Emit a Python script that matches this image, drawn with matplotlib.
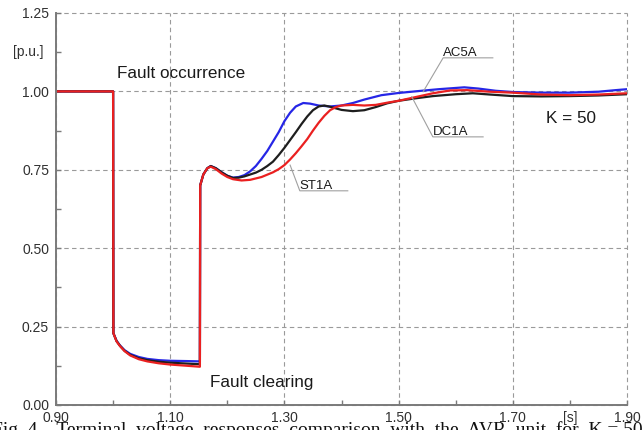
import matplotlib
matplotlib.use("Agg")
import matplotlib.pyplot as plt
from matplotlib.ticker import FixedLocator
from matplotlib.transforms import blended_transform_factory

plt.rcParams['font.family'] = ['Liberation Sans', 'DejaVu Sans']

# ---------------- data ----------------
t_ac5a = [0.90, 1.000, 1.0005, 1.006, 1.012, 1.020, 1.030, 1.045, 1.060, 1.080, 1.100, 1.130, 1.152,
          1.1525, 1.158, 1.165, 1.171, 1.180, 1.190, 1.200, 1.210, 1.220, 1.230, 1.240, 1.250, 1.260,
          1.270, 1.280, 1.290, 1.300, 1.310, 1.320, 1.333, 1.345, 1.360, 1.380, 1.400, 1.420, 1.440,
          1.470, 1.500, 1.540, 1.570, 1.600, 1.615, 1.640, 1.670, 1.700, 1.750, 1.800, 1.850, 1.880, 1.900]
v_ac5a = [1.000, 1.000, 0.229, 0.205, 0.190, 0.175, 0.163, 0.153, 0.147, 0.143, 0.141, 0.140, 0.139,
          0.700, 0.735, 0.755, 0.762, 0.755, 0.742, 0.731, 0.725, 0.727, 0.733, 0.745, 0.762, 0.785,
          0.810, 0.840, 0.870, 0.905, 0.932, 0.952, 0.963, 0.961, 0.955, 0.952, 0.955, 0.963, 0.974,
          0.988, 0.995, 1.002, 1.007, 1.011, 1.013, 1.009, 1.002, 0.998, 0.996, 0.996, 0.999, 1.004, 1.007]

t_dc1a = [0.90, 1.000, 1.0005, 1.006, 1.012, 1.020, 1.030, 1.045, 1.060, 1.080, 1.100, 1.130, 1.152,
          1.1525, 1.158, 1.165, 1.171, 1.180, 1.190, 1.200, 1.210, 1.220, 1.230, 1.240, 1.250, 1.260,
          1.270, 1.280, 1.290, 1.300, 1.310, 1.320, 1.330, 1.340, 1.350, 1.360, 1.370, 1.380, 1.400,
          1.420, 1.440, 1.460, 1.480, 1.500, 1.530, 1.560, 1.600, 1.630, 1.660, 1.700, 1.750, 1.800,
          1.850, 1.900]
v_dc1a = [1.000, 1.000, 0.229, 0.204, 0.189, 0.173, 0.160, 0.149, 0.143, 0.138, 0.135, 0.132, 0.130,
          0.700, 0.735, 0.755, 0.762, 0.755, 0.742, 0.731, 0.724, 0.725, 0.729, 0.735, 0.741, 0.750,
          0.762, 0.776, 0.797, 0.820, 0.845, 0.870, 0.896, 0.920, 0.940, 0.952, 0.955, 0.951, 0.941,
          0.937, 0.940, 0.950, 0.962, 0.970, 0.978, 0.985, 0.991, 0.994, 0.990, 0.985, 0.984, 0.985,
          0.987, 0.991]

t_st1a = [0.90, 1.000, 1.0005, 1.006, 1.012, 1.020, 1.030, 1.045, 1.060, 1.080, 1.100, 1.130, 1.152,
          1.1525, 1.158, 1.165, 1.171, 1.180, 1.190, 1.200, 1.210, 1.225, 1.240, 1.260, 1.280, 1.290,
          1.300, 1.310, 1.320, 1.330, 1.340, 1.350, 1.360, 1.370, 1.380, 1.390, 1.400, 1.420, 1.440,
          1.460, 1.480, 1.500, 1.530, 1.560, 1.590, 1.620, 1.660, 1.700, 1.750, 1.800, 1.850, 1.900]
v_st1a = [1.000, 1.000, 0.229, 0.203, 0.188, 0.172, 0.158, 0.146, 0.139, 0.133, 0.129, 0.125, 0.122,
          0.700, 0.735, 0.755, 0.760, 0.752, 0.738, 0.727, 0.720, 0.716, 0.718, 0.727, 0.742, 0.752,
          0.765, 0.783, 0.803, 0.825, 0.848, 0.875, 0.900, 0.922, 0.940, 0.950, 0.955, 0.957, 0.955,
          0.957, 0.964, 0.970, 0.982, 0.994, 1.003, 1.004, 0.999, 0.996, 0.990, 0.988, 0.990, 0.994]

x_ticklabels = ["0.90", "1.10", "1.30", "1.50", "1.70", "1.90"]
y_ticklabels = ["0.00", "0.25", "0.50", "0.75", "1.00", "1.25"]

# ---------------- figure ----------------
fig = plt.figure(figsize=(6.44, 4.30), dpi=100)
ax = fig.add_axes([56/644, 25/430, 571/644, 392/430])

ax.plot(t_ac5a, v_ac5a, color='#2626e6', lw=1.6, solid_joinstyle='round')
ax.plot(t_dc1a, v_dc1a, color='#1e1e1e', lw=1.6, solid_joinstyle='round')
ax.plot(t_st1a, v_st1a, color='#ea2020', lw=1.6, solid_joinstyle='round')

ax.set_xlim(0.90, 1.90)
ax.set_ylim(0.0, 1.25)

ax.xaxis.set_major_locator(FixedLocator([0.9, 1.1, 1.3, 1.5, 1.7, 1.9]))
ax.xaxis.set_minor_locator(FixedLocator([1.0, 1.2, 1.4, 1.6, 1.8]))
ax.yaxis.set_major_locator(FixedLocator([0.0, 0.25, 0.5, 0.75, 1.0, 1.25]))
ax.yaxis.set_minor_locator(FixedLocator([0.125, 0.375, 0.625, 0.875, 1.125]))
ax.set_xticklabels(x_ticklabels)
ax.set_yticklabels(y_ticklabels)

ax.tick_params(which='both', direction='in', color='#7a7a7a', width=1.0,
               labelsize=10, labelcolor='#303030', length=3.5)
ax.tick_params(axis='x', pad=4)
ax.tick_params(axis='y', pad=5)

for s in ['top', 'right']:
    ax.spines[s].set_visible(False)
for s in ['left', 'bottom']:
    ax.spines[s].set_color('#7a7a7a')
    ax.spines[s].set_linewidth(1.4)

ax.grid(True, which='major', color='#9a9a9a', lw=0.8, linestyle=(0, (4, 3)))
ax.set_axisbelow(True)
for gl in ax.get_xgridlines() + ax.get_ygridlines():
    gl.set_clip_on(False)

# axis unit labels
bx = blended_transform_factory(ax.transData, ax.transAxes)
ax.text(1.80, -0.016, "[s]", transform=bx, ha='center', va='top',
        fontsize=10, color='#303030')
by = blended_transform_factory(ax.transAxes, ax.transData)
ax.text(-0.048, 1.125, "[p.u.]", transform=by, ha='center', va='center',
        fontsize=10, color='#303030')

# annotations
txt_kw = dict(color='#1a1a1a')
ax.text(1.007, 1.044, "Fault occurrence", fontsize=12.3, va='baseline', ha='left', **txt_kw)
ax.text(1.170, 0.058, "Fault clearing", fontsize=12.3, va='baseline', ha='left', **txt_kw)
ax.text(1.758, 0.898, "K = 50", fontsize=12.3, va='baseline', ha='left', **txt_kw)

lead = '#a0a0a0'
for name, tx, ty, ux, px, py in [("AC5A", 1.578, 1.113, 1.665, 1.543, 0.999),
                                   ("DC1A", 1.560, 0.861, 1.648, 1.523, 0.983),
                                   ("ST1A", 1.327, 0.689, 1.411, 1.310, 0.765)]:
    ax.text(tx, ty, name, fontsize=9.5, va='baseline', ha='left', **txt_kw)
    ax.plot([px, tx, ux], [py, ty - 0.006, ty - 0.006], color=lead, lw=0.8)

# caption fragment at bottom (cut off by the image edge, as in the reference)
fig.text(-0.012, -0.0125, "Fig. 4.   Terminal  voltage  responses  comparison  with  the  AVR  unit  for  K = 50",
         fontsize=14, family=['Liberation Serif', 'DejaVu Serif'], ha='left', va='baseline', color='#111111')

fig.savefig("out.png", dpi=100)
